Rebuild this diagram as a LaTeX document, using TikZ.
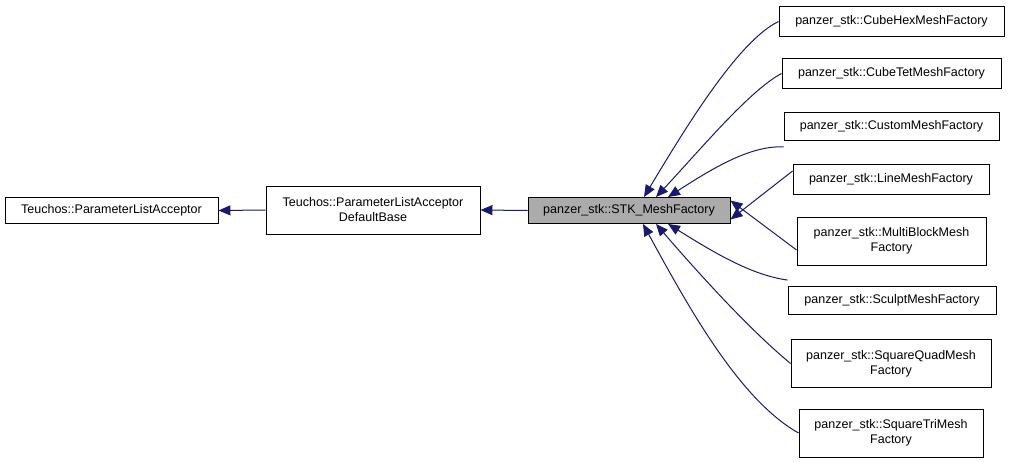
\documentclass[tikz,border=0pt]{standalone}
\usepackage{fontspec}
\setmainfont{Liberation Sans}
\usetikzlibrary{arrows.meta}
\definecolor{navy}{HTML}{191970}
\begin{document}
\begin{tikzpicture}[x=1pt,y=-1pt,
  box/.style={draw,line width=0.9pt,rectangle,minimum height=#1,inner sep=0pt,font=\fontsize{12.5}{15}\selectfont,align=center},
  box/.default=26pt,
  edge/.style={draw=navy,line width=1pt,{Triangle[length=12pt,width=10pt,fill=navy]}-}]
\useasboundingbox (0,0) rectangle (1011,461);
\node[box,minimum width=213pt] (pla) at (111.5,210.5) {Teuchos::ParameterListAcceptor};
\node[box=48pt,minimum width=214pt] (db) at (373,210) {Teuchos::ParameterListAcceptor\\DefaultBase};
\node[box,minimum width=202pt,fill=black!33] (stk) at (629,210.5) {panzer\_stk::STK\_MeshFactory};
\node[box=30pt,minimum width=225pt] (c1) at (891.5,21.5) {panzer\_stk::CubeHexMeshFactory};
\node[box=30pt,minimum width=219pt] (c2) at (891.5,73.5) {panzer\_stk::CubeTetMeshFactory};
\node[box=28pt,minimum width=215pt] (c3) at (891.5,126.5) {panzer\_stk::CustomMeshFactory};
\node[box=30pt,minimum width=196pt] (c4) at (891,179) {panzer\_stk::LineMeshFactory};
\node[box=48pt,minimum width=189pt] (c5) at (891.5,241) {panzer\_stk::MultiBlockMesh\\Factory};
\node[box=28pt,minimum width=208pt] (c6) at (892,300.5) {panzer\_stk::SculptMeshFactory};
\node[box=48pt,minimum width=200pt] (c7) at (891,363.5) {panzer\_stk::SquareQuadMesh\\Factory};
\node[box=48pt,minimum width=184pt] (c8) at (891,433) {panzer\_stk::SquareTriMesh\\Factory};
\draw[edge] (pla.east) -- (db.west);
\draw[edge] (db.east) -- (stk.west);
\draw[edge] ([xshift=15pt]stk.north) .. controls (690,120) and (740,40) .. (c1.west);
\draw[edge] ([xshift=27pt]stk.north) .. controls (700,150) and (750,90) .. (c2.west);
\draw[edge] ([xshift=39pt]stk.north) .. controls (710,170) and (750,145) .. ([yshift=-6pt]c3.south west);
\draw[edge] ([yshift=-9pt]stk.east) -- ([yshift=8pt]c4.west);
\draw[edge] ([yshift=10pt]stk.east) -- ([yshift=-9pt]c5.west);
\draw[edge] ([xshift=39pt]stk.south) .. controls (710,250) and (750,275) .. ([yshift=6pt]c6.north west);
\draw[edge] ([xshift=27pt]stk.south) .. controls (700,275) and (750,330) .. (c7.west);
\draw[edge] ([xshift=14pt]stk.south) .. controls (690,310) and (740,400) .. (c8.west);
\end{tikzpicture}
\end{document}
